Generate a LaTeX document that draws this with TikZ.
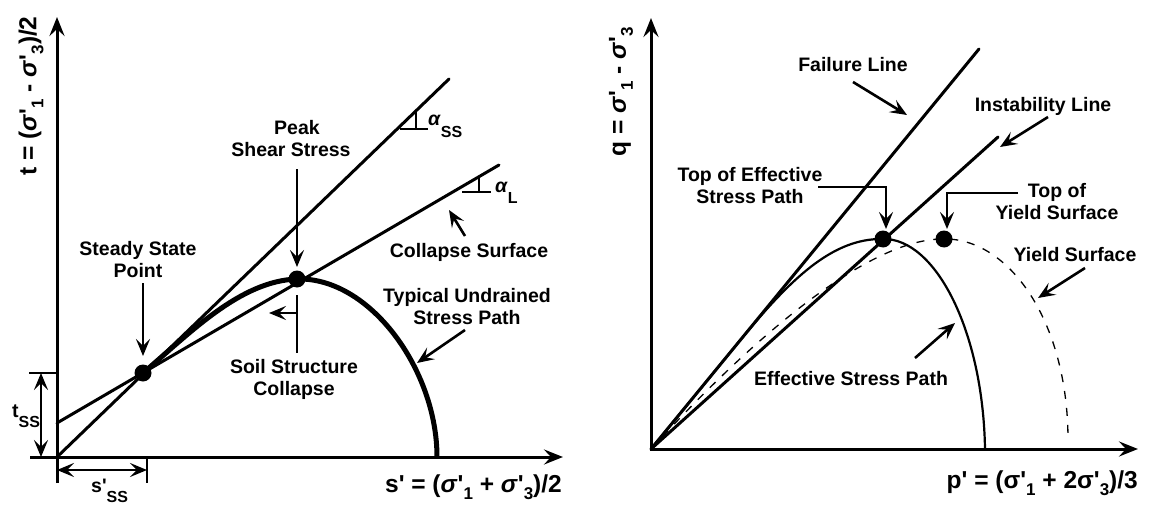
\documentclass[tikz,border=0pt]{standalone}
\usepackage{fontspec}
\setmainfont{Liberation Sans}[Ligatures=TeXOff]
\usetikzlibrary{arrows.meta}
\newcommand{\dn}[1]{\raisebox{-7pt}{\fontsize{17}{17}\selectfont #1}}
\newcommand{\sdn}[2]{\raisebox{-#1pt}{\fontsize{16}{16}\selectfont #2}}
\begin{document}
\begin{tikzpicture}[x=1pt,y=-1pt,
  lab/.style={font=\bfseries\fontsize{19.5}{22.5}\selectfont, align=center, inner sep=0pt},
  axlab/.style={font=\bfseries\fontsize{24.5}{26}\selectfont, inner sep=0pt},
  ax/.style={line width=3pt, -{Stealth[length=19pt,width=15pt,inset=7pt]}},
  thick line/.style={line width=3pt},
  path line/.style={line width=5pt},
  thin path/.style={line width=2.2pt},
  dash path/.style={line width=1.3pt, dash pattern=on 8pt off 9pt},
  arr/.style={line width=2.6pt, -{Stealth[length=17pt,width=14pt,inset=7pt]}},
  darr/.style={line width=2.6pt, {Stealth[length=17pt,width=14pt,inset=7pt]}-{Stealth[length=17pt,width=14pt,inset=7pt]}},
  tick/.style={line width=2.6pt},
  dot/.style={circle, fill=black, minimum size=17pt, inner sep=0pt},
]
\fill[white] (0,0) rectangle (1150,508);
\useasboundingbox (0,0) rectangle (1150,508);

% ================= LEFT CHART =================
\coordinate (Lyb) at (57,483);
\coordinate (Lyt) at (57,17);
\coordinate (Lxl) at (30,457);
\coordinate (Lxr) at (563,457);
\coordinate (LO) at (57,457);
\draw[ax] (Lyb) -- (Lyt);
\draw[ax] (Lxl) -- (Lxr);

\node[axlab, rotate=90] (tlab) at (31,96) {t = (\textit{σ}'\dn{1} - \textit{σ}'\dn{3})/2};
\node[axlab, anchor=base east] (slab) at (562,492) {s' = (\textit{σ}'\dn{1} + \textit{σ}'\dn{3})/2};

% lines
\coordinate (L1e) at (449,79);
\coordinate (L2s) at (57,423);
\coordinate (L2e) at (499,165);
\draw[thick line, line cap=round] (LO) -- (L1e);
\draw[thick line, line cap=round] (L2s) -- (L2e);

% points
\node[dot] (ssp) at (143,373) {};
\node[dot] (pk) at (297,279) {};

% stress path
\draw[path line] (ssp.center) .. controls (190,333) and (240,281) .. (pk.center)
   .. controls (370,277) and (437,370) .. (437,457);

% t_ss dimension
\coordinate (tsA) at (29,373);
\coordinate (tsB) at (57,373);
\draw[tick] (tsA) -- (tsB);
\coordinate (tsT) at (41,373);
\coordinate (tsD) at (41,457);
\draw[darr] (tsT) -- (tsD);
\node[lab, anchor=base west] (tss) at (12,417) {t\sdn{10}{SS}};

% s'_ss dimension
\coordinate (ssA) at (147,457);
\coordinate (ssB) at (147,483);
\draw[tick] (ssA) -- (ssB);
\coordinate (ssL) at (57,470);
\coordinate (ssR) at (147,470);
\draw[darr] (ssL) -- (ssR);
\node[lab, anchor=base west] (sss) at (91,492) {s'\sdn{10}{SS}};

% slope marks
\coordinate (aSh1) at (400,129);
\coordinate (aSh2) at (428,129);
\coordinate (aSv1) at (416,129);
\coordinate (aSv2) at (416,111);
\draw[tick] (aSh1) -- (aSh2);
\draw[tick] (aSv1) -- (aSv2);
\node[lab, anchor=base west] (aSS) at (428,125) {\textit{α}\sdn{12}{SS}};

\coordinate (aLh1) at (462,192);
\coordinate (aLh2) at (491,192);
\coordinate (aLv1) at (479,192);
\coordinate (aLv2) at (479,176);
\draw[tick] (aLh1) -- (aLh2);
\draw[tick] (aLv1) -- (aLv2);
\node[lab, anchor=base west] (aL) at (495,192) {\textit{α}\sdn{11}{L}};

% labels & arrows
\node[lab, anchor=north] (sslab) at (138,241) {Steady State\\Point};
\coordinate (ssArS) at (143,283);
\coordinate (ssArE) at (143,356);
\draw[arr] (ssArS) -- (ssArE);

\node[lab, anchor=north] (pklab) at (291,120) {\hspace*{12pt}Peak\\Shear Stress};
\coordinate (pkArS) at (297,169);
\coordinate (pkArE) at (297,267);
\draw[arr] (pkArS) -- (pkArE);

\coordinate (scT) at (297,295);
\coordinate (scB) at (297,353);
\draw[tick] (scT) -- (scB);
\coordinate (scM) at (297,313);
\coordinate (scE) at (269,313);
\draw[arr] (scM) -- (scE);
\node[lab, anchor=north] (sclab) at (294,359) {Soil Structure\\Collapse};

\node[lab, anchor=north] (cslab) at (469,243) {Collapse Surface};
\coordinate (csArS) at (465,236);
\coordinate (csArE) at (449,210);
\draw[arr] (csArS) -- (csArE);

\node[lab, anchor=north] (tulab) at (467,288) {Typical Undrained\\Stress Path};
\coordinate (tuArS) at (465,330);
\coordinate (tuArE) at (417,363);
\draw[arr] (tuArS) -- (tuArE);

% ================= RIGHT CHART =================
\coordinate (RO) at (651,449);
\coordinate (RyT) at (651,18);
\coordinate (RxR) at (1138,449);
\coordinate (RyB) at (651,450.5);
\coordinate (RxL) at (649.5,449);
\draw[ax] (RyB) -- (RyT);
\draw[ax] (RxL) -- (RxR);

\node[axlab, rotate=90] (qlab) at (621,92) {q = \textit{σ}'\dn{1} - \textit{σ}'\dn{3}};
\node[axlab, anchor=base east] (plab) at (1138,488) {p' = (σ'\dn{1} + 2σ'\dn{3})/3};

\coordinate (FLe) at (979,49);
\coordinate (ILe) at (998,137);
\draw[thick line, line cap=round] (RO) -- (FLe);
\draw[thick line, line cap=round] (RO) -- (ILe);

\node[dot] (tesp) at (883,239) {};
\node[dot] (tys) at (944,239) {};

% yield surface (dashed)
\draw[dash path] (RO) .. controls (755,335) and (870,238) .. (tys.center)
   .. controls (1008,238) and (1068,320) .. (1068,440);
% effective stress path
\draw[thin path] (RO) -- (742,338) .. controls (790,280) and (832,238) .. (tesp.center)
   .. controls (935,238) and (983,330) .. (985,449);

\node[lab, anchor=north] (fllab) at (853,57) {Failure Line};
\coordinate (flArS) at (853,82);
\coordinate (flArE) at (907,115);
\draw[arr] (flArS) -- (flArE);

\node[lab, anchor=north] (illab) at (1043,97) {Instability Line};
\coordinate (ilArS) at (1048,117);
\coordinate (ilArE) at (1000,147);
\draw[arr] (ilArS) -- (ilArE);

\node[lab, anchor=north] (telab) at (750,167) {Top of Effective\\Stress Path};
\coordinate (teS) at (818,187);
\coordinate (teE) at (886,229);
\draw[arr] (teS) -| (teE);

\node[lab, anchor=north] (tylab) at (1057,183) {Top of\\Yield Surface};
\coordinate (tyS) at (1018,193);
\coordinate (tyE) at (947,229);
\draw[arr] (tyS) -| (tyE);

\node[lab, anchor=north] (yslab) at (1075,247) {Yield Surface};
\coordinate (ysArS) at (1085,268);
\coordinate (ysArE) at (1038,298);
\draw[arr] (ysArS) -- (ysArE);

\node[lab, anchor=north] (eslab) at (851,371) {Effective Stress Path};
\coordinate (esArS) at (915,358);
\coordinate (esArE) at (955,323);
\draw[arr] (esArS) -- (esArE);
\end{tikzpicture}
\end{document}
